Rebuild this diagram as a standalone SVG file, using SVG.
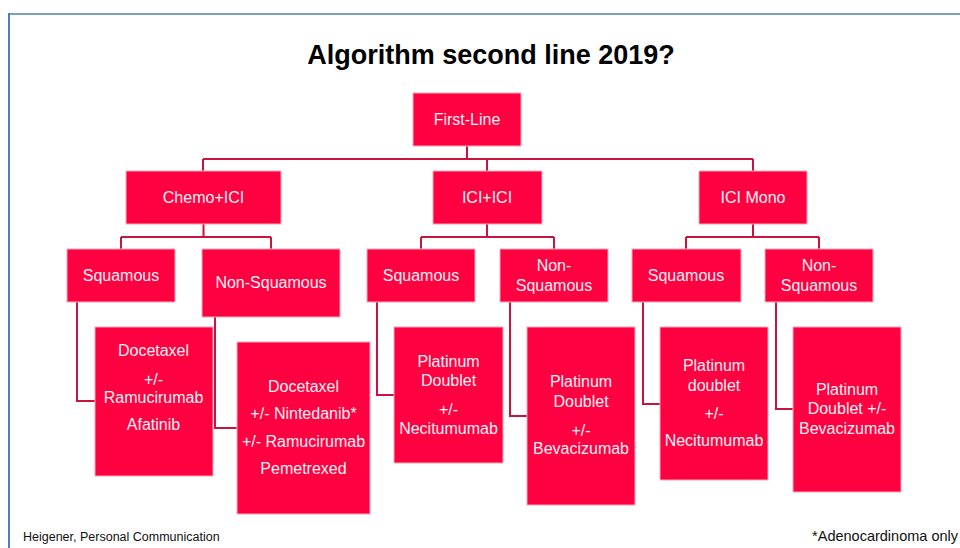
<svg xmlns="http://www.w3.org/2000/svg" width="960" height="548" viewBox="0 0 960 548">
<style>
.box{fill:#ff0040;stroke:#f7a9bb;stroke-width:1}
.t{font-family:"Liberation Sans",Arial,sans-serif;font-size:16px;fill:#fff2f5;text-anchor:middle}
.c{fill:none;stroke:#c8143f;stroke-width:2}
.title{font-family:"Liberation Sans",Arial,sans-serif;font-size:27px;font-weight:bold;fill:#000;text-anchor:middle}
.foot{font-family:"Liberation Sans",Arial,sans-serif;fill:#111}
</style>
<rect width="960" height="548" fill="#fff"/>
<g id="frame">
<line x1="8" y1="14" x2="960" y2="14" stroke="#7ba1c5" stroke-width="2"/>
<line x1="9" y1="13" x2="9" y2="548" stroke="#4a80bb" stroke-width="2"/>
</g>
<text class="title" x="491" y="64">Algorithm second line 2019?</text>
<g id="connectors">
<path class="c" d="M467,146 V159 M203,159 H753 M203,159 V171 M487,159 V171 M753,159 V171"/>
<path class="c" d="M203.5,224 V237 M121,237 H271 M121,237 V249 M271,237 V249"/>
<path class="c" d="M487,224 V237 M421,237 H554 M421,237 V249 M554,237 V249"/>
<path class="c" d="M753,224 V237 M686,237 H819 M686,237 V249 M819,237 V249"/>
<path class="c" d="M77,302 V401 H95"/>
<path class="c" d="M215,317 V428 H237"/>
<path class="c" d="M377,302 V395 H394"/>
<path class="c" d="M510,302 V416 H527"/>
<path class="c" d="M643,302 V404 H660"/>
<path class="c" d="M776,302 V409 H793"/>
</g>
<g id="first-line"><rect class="box" x="413" y="93" width="108" height="53"/><text class="t" x="467" y="124.5">First-Line</text></g>
<g id="chemo-ici"><rect class="box" x="126" y="171" width="155" height="53"/><text class="t" x="203.5" y="203">Chemo+ICI</text></g>
<g id="ici-ici"><rect class="box" x="433" y="171" width="109" height="53"/><text class="t" x="487" y="203">ICI+ICI</text></g>
<g id="ici-mono"><rect class="box" x="699" y="171" width="108" height="53"/><text class="t" x="753" y="203">ICI Mono</text></g>
<g id="sq1"><rect class="box" x="67" y="249" width="108" height="53"/><text class="t" x="121" y="281">Squamous</text></g>
<g id="nsq1"><rect class="box" x="202" y="249" width="138" height="68"/><text class="t" x="271" y="288">Non-Squamous</text></g>
<g id="sq2"><rect class="box" x="367" y="249" width="108" height="53"/><text class="t" x="421" y="281">Squamous</text></g>
<g id="nsq2"><rect class="box" x="500" y="249" width="108" height="53"/><text class="t" x="554" y="271">Non-</text><text class="t" x="554" y="290.5">Squamous</text></g>
<g id="sq3"><rect class="box" x="632" y="249" width="109" height="53"/><text class="t" x="686" y="281">Squamous</text></g>
<g id="nsq3"><rect class="box" x="765" y="249" width="108" height="53"/><text class="t" x="819" y="271">Non-</text><text class="t" x="819" y="290.5">Squamous</text></g>
<g id="tx1"><rect class="box" x="95" y="327" width="118" height="149"/>
<text class="t" x="153.5" y="356">Docetaxel</text><text class="t" x="153.5" y="384.5">+/-</text><text class="t" x="153.5" y="403">Ramucirumab</text><text class="t" x="153.5" y="429.5">Afatinib</text></g>
<g id="tx2"><rect class="box" x="237" y="342" width="133" height="172"/>
<text class="t" x="303.5" y="392">Docetaxel</text><text class="t" x="303.5" y="419">+/- Nintedanib*</text><text class="t" x="303.5" y="447">+/- Ramucirumab</text><text class="t" x="303.5" y="474">Pemetrexed</text></g>
<g id="tx3"><rect class="box" x="394" y="327" width="109" height="136"/>
<text class="t" x="448.5" y="367">Platinum</text><text class="t" x="448.5" y="386">Doublet</text><text class="t" x="448.5" y="414.5">+/-</text><text class="t" x="448.5" y="434">Necitumumab</text></g>
<g id="tx4"><rect class="box" x="527" y="327" width="108" height="178"/>
<text class="t" x="581" y="387">Platinum</text><text class="t" x="581" y="406.5">Doublet</text><text class="t" x="581" y="435.5">+/-</text><text class="t" x="581" y="454">Bevacizumab</text></g>
<g id="tx5"><rect class="box" x="660" y="327" width="108" height="153"/>
<text class="t" x="714" y="371">Platinum</text><text class="t" x="714" y="391">doublet</text><text class="t" x="714" y="419">+/-</text><text class="t" x="714" y="446">Necitumumab</text></g>
<g id="tx6"><rect class="box" x="793" y="327" width="108" height="165"/>
<text class="t" x="847" y="395">Platinum</text><text class="t" x="847" y="414">Doublet +/-</text><text class="t" x="847" y="434">Bevacizumab</text></g>
<text class="foot" x="23" y="541" font-size="12.5">Heigener, Personal Communication</text>
<text class="foot" x="958" y="541" font-size="14.5" text-anchor="end">*Adenocardinoma only</text>
</svg>
